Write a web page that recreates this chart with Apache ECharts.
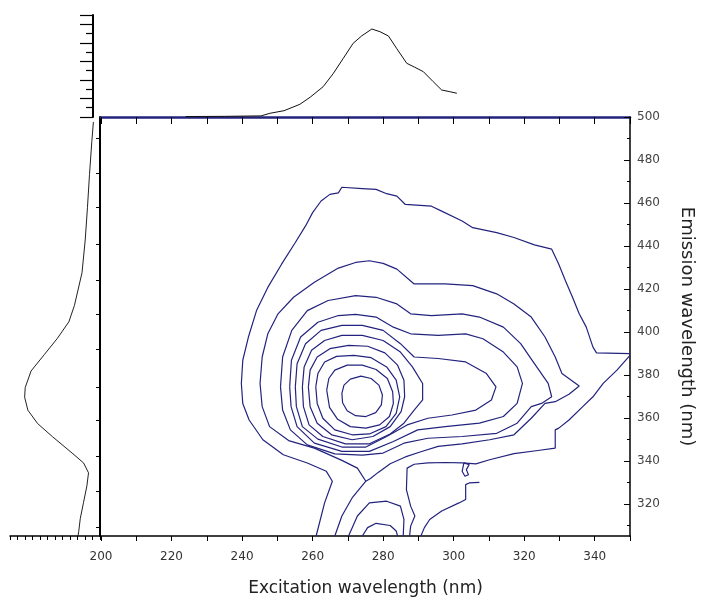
<!DOCTYPE html>
<html><head><meta charset="utf-8">
<script src="https://cdn.jsdelivr.net/npm/echarts@6/dist/echarts.min.js"></script>
<style>html,body{margin:0;padding:0;background:#fff}#c{width:706px;height:604px}</style>
</head><body><div id="c"></div>
<script>
// ---- tick labels ----
const excitationLabels = [200, 220, 240, 260, 280, 300, 320, 340];
const excitationTicks = [200, 210, 220, 230, 240, 250, 260, 270, 280, 290, 300, 310, 320, 330, 340, 350];
const emissionLabels = [320, 340, 360, 380, 400, 420, 440, 460, 480, 500];
const emissionMinorTicks = [310, 320, 330, 340, 350, 360, 370, 380, 390, 400, 410, 420, 430, 440, 450, 460, 470, 480, 490, 500];
const leftSpectrumTicks = [309, 326, 342, 359, 374, 392, 408, 424, 441, 458, 474, 490];

// ---- excitation spectrum (top): [excitation nm, intensity] ----
const excitationSpectrum = [
  [224, 0.05], [235, 0.07], [245.4, 0.12], [247.9, 0.4], [251.9, 0.68], [256.4, 1.37], [259.3, 2.13],
  [263.0, 3.27], [265.9, 4.71], [268.7, 6.33], [271.5, 7.95], [273.9, 8.74], [276.8, 9.49],
  [279.1, 9.2], [281.5, 8.74], [283.8, 7.41], [286.7, 5.79], [289.0, 5.36], [291.4, 4.89],
  [294.2, 3.81], [296.6, 2.91], [298.9, 2.73], [300.9, 2.56]
];

// ---- emission spectrum (left): [intensity, emission nm] ----
const emissionSpectrum = [
  [0.88, 497.7], [1.09, 488.6], [1.40, 473.3], [1.67, 458.0], [1.97, 442.8], [2.40, 427.5],
  [3.41, 412.3], [4.15, 404.7], [5.68, 397.0], [7.43, 389.4], [9.19, 381.8], [9.97, 374.1],
  [10.05, 369.6], [9.61, 363.5], [8.31, 357.3], [6.33, 351.2], [3.72, 343.6], [2.19, 339.0],
  [1.53, 334.4], [1.75, 328.3], [2.19, 320.7], [2.63, 313.1], [2.84, 307.0], [2.93, 305.0]
];

// ---- contour lines: [excitation nm, emission nm] ----
const contourA1 = [[261.0,305],[263.4,320.4],[265.6,330.5],[263.9,335.1],[258.5,339.0],[251.7,342.8],[245.9,349.8],[242.0,359.0],[240.2,366.7],[239.8,376.0],[240.2,386.8],[241.8,397.6],[244.1,409.9],[247.3,420.7],[251.2,431.5],[255.1,441.6],[258.0,449.3],[260.0,455.5],[262.4,460.9],[264.9,464.0],[267.3,464.7],[268.3,467.3],[274.1,466.7],[278.0,466.3],[281.0,464.3],[283.9,463.2],[286.3,459.3],[293.7,458.5],[296.6,456.2],[302.4,451.6],[305.4,448.5],[312.2,446.2],[317.1,443.9],[322.9,440.5],[327.8,438.5],[329.8,431.5],[331.7,423.8],[333.7,416.1],[335.6,408.4],[337.6,402.2],[339.5,392.9],[340.5,390.2],[350,389.9]];
const contourA2 = [[350,389.1],[346.3,382.2],[342.4,376.0],[339.5,369.8],[336.6,365.2],[332.7,359.0],[329.8,355.2],[328.8,354.4],[328.8,345.9],[323.9,344.8],[317.1,343.3],[310.2,340.5],[306.3,338.6],[302.4,339.0],[297.6,339.2],[292.7,339.0],[288.8,338.4],[286.8,336.6],[286.6,326.6],[287.8,318.9],[289.0,314.3],[287.8,309.6],[287.5,305]];
const contourA3 = [[307.3,330.0],[304.4,329.7],[303.4,328.9],[303.4,322.0],[301.5,320.4],[296.6,316.6],[293.2,312.7],[291.7,308.9],[290.7,305]];
const contourStar = [[302.9,339.0],[304.4,338.2],[303.6,335.9],[304.2,333.5],[303.2,332.8],[302.4,335.1],[302.9,339.0]];
const contourB = [[266.3,305],[268.3,314.3],[271.2,322.7],[275.1,330.5],[272.7,336.6],[268.3,340.2],[260.5,345.9],[253.2,349.4],[247.8,355.9],[245.7,365.2],[245.1,376.0],[245.7,388.3],[247.3,399.1],[250.2,408.4],[254.6,416.1],[260.5,423.1],[267.3,429.7],[272.2,432.3],[276.1,433.1],[280.0,431.9],[283.9,429.2],[288.8,422.3],[297.6,422.3],[305.4,421.5],[312.2,417.7],[317.1,413.0],[322.0,406.9],[325.9,397.6],[328.8,388.3],[330.7,380.6],[335.6,374.8],[332.7,371.0],[328.8,367.5],[325.9,366.7],[322.0,359.8],[317.1,352.1],[310.2,349.8],[302.4,347.9],[295.6,346.7],[290.7,344.2],[286.3,341.8],[282.0,338.6],[278.6,334.6],[276.4,331.8],[275.1,330.5]];
const contourBottom1 = [[270.2,305],[272.7,314.3],[276.1,320.4],[281.0,321.2],[284.9,318.9],[285.9,312.7],[285.7,305]];
const contourBottom2 = [[274.1,305],[275.6,308.9],[278.0,310.9],[282.0,309.9],[283.7,307.3],[284.1,305]];
const contourE = [[250.9,374.4],[251.5,388.3],[254.1,400.7],[258.5,409.9],[264.4,414.6],[272.2,416.9],[278.0,416.1],[283.9,413.0],[287.8,408.4],[293.7,407.6],[302.4,408.4],[307.3,406.9],[314.1,402.2],[319.0,394.5],[322.9,385.2],[326.8,376.0],[327.8,369.8],[324.9,366.7],[322.0,365.2],[318.0,357.5],[312.2,352.8],[302.4,351.3],[292.7,350.5],[285.9,348.2],[280.0,343.6],[274.1,342.6],[266.3,343.2],[258.5,347.4],[253.7,354.4],[251.5,363.6],[250.9,374.4]];
const contourF = [[253.5,374.4],[254.0,386.8],[256.6,397.6],[261.5,404.5],[267.3,407.6],[272.2,408.1],[278.0,406.9],[282.9,402.2],[287.8,399.1],[295.6,398.4],[303.4,399.1],[308.3,396.8],[314.1,390.6],[318.0,383.7],[319.5,376.0],[318.0,366.7],[314.1,360.6],[307.3,357.5],[297.6,355.9],[289.8,354.4],[282.9,349.0],[276.1,344.4],[268.3,344.4],[260.5,348.2],[255.6,355.9],[253.9,365.2],[253.5,374.4]];
const contourG = [[255.1,374.4],[255.6,385.2],[258.0,394.5],[262.4,400.7],[268.3,403.0],[274.1,403.0],[280.0,400.7],[284.9,394.5],[288.8,388.3],[295.6,387.6],[303.4,386.0],[309.3,380.6],[312.0,374.4],[310.7,368.3],[306.3,363.6],[299.5,361.3],[292.7,359.8],[286.8,356.7],[281.0,351.3],[275.1,346.4],[268.3,346.4],[261.5,350.1],[257.1,355.9],[255.4,365.2],[255.1,374.4]];
const contourH = [[257.1,374.4],[257.6,383.7],[259.7,391.4],[263.4,396.0],[268.3,398.4],[274.1,398.4],[280.0,396.0],[284.9,390.6],[288.3,383.7],[291.2,376.0],[291.2,368.3],[288.8,363.6],[285.9,357.5],[282.0,352.5],[276.1,347.9],[269.3,347.9],[262.9,351.3],[259.0,356.7],[257.4,365.2],[257.1,374.4]];
const contourI4 = [[258.8,374.4],[259.3,382.2],[261.3,388.3],[264.9,392.2],[270.2,393.7],[275.6,393.3],[280.5,390.2],[284.1,384.5],[285.9,377.5],[286.1,369.8],[285.1,362.9],[282.0,355.9],[277.1,351.3],[271.2,349.8],[265.4,352.1],[261.3,357.5],[259.3,365.2],[258.8,374.4]];
const contourI3 = [[260.9,374.4],[261.5,380.6],[263.4,386.0],[266.8,388.6],[271.7,389.1],[276.6,388.0],[281.0,383.7],[283.7,377.5],[284.7,369.8],[283.7,362.1],[280.8,355.9],[276.1,352.5],[271.2,352.1],[266.3,354.4],[262.9,359.8],[261.3,366.7],[260.9,374.4]];
const contourI2 = [[264.0,372.9],[264.6,378.3],[266.3,382.2],[269.8,384.5],[274.1,384.5],[278.0,382.5],[281.2,378.3],[282.7,372.1],[282.9,366.7],[281.8,360.6],[279.0,356.7],[275.1,355.2],[270.7,355.9],[267.1,359.3],[264.8,364.9],[264.0,372.9]];
const contourI1 = [[268.3,371.4],[268.9,375.2],[270.7,378.0],[273.7,379.4],[276.6,378.3],[278.8,375.2],[279.8,370.6],[279.5,366.0],[277.9,362.4],[275.1,360.6],[272.2,361.0],[269.8,363.3],[268.5,367.0],[268.3,371.4]];

const contours = [contourA1, contourA2, contourA3, contourStar, contourB, contourBottom1, contourBottom2,
  contourE, contourF, contourG, contourH, contourI4, contourI3, contourI2, contourI1];

const NAVY = '#23237e';
const FONT = 'DejaVu Sans, Verdana, sans-serif';

const chart = echarts.init(document.getElementById('c'), null, {renderer: 'canvas'});
const series = contours.map(c => ({
  type: 'line', xAxisIndex: 0, yAxisIndex: 0, data: c, symbol: 'none',
  lineStyle: {color: NAVY, width: 1.2}, silent: true, clip: true
}));
series.push({type: 'line', xAxisIndex: 1, yAxisIndex: 1, data: excitationSpectrum, symbol: 'none',
  lineStyle: {color: '#111', width: 1}, silent: true});
series.push({type: 'line', xAxisIndex: 2, yAxisIndex: 2, data: emissionSpectrum, symbol: 'none',
  lineStyle: {color: '#222', width: 1}, silent: true});

chart.setOption({
  animation: false,
  backgroundColor: '#fff',
  grid: [
    {left: 101, top: 117, width: 529, height: 419},
    {left: 101, top: 15, width: 529, height: 102},
    {left: 10, top: 117, width: 90, height: 419}
  ],
  xAxis: [
    {gridIndex: 0, type: 'value', min: 200, max: 350, position: 'bottom',
     axisLine: {show: true, lineStyle: {color: '#000', width: 1.5}},
     axisTick: {show: true, inside: false, length: 5, customValues: excitationTicks, lineStyle: {color: '#000'}},
     axisLabel: {customValues: excitationLabels, margin: 15, fontSize: 12, color: '#333', fontFamily: FONT},
     splitLine: {show: false},
     name: 'Excitation wavelength (nm)', nameLocation: 'middle', nameGap: 44,
     nameTextStyle: {fontSize: 17, color: '#222', fontFamily: FONT}},
    {gridIndex: 1, type: 'value', min: 200, max: 350, position: 'bottom',
     axisLine: {show: true, lineStyle: {color: NAVY, width: 2.5}},
     axisTick: {show: true, inside: false, length: 7, customValues: excitationTicks, lineStyle: {color: '#000'}},
     axisLabel: {show: false}, splitLine: {show: false}},
    {gridIndex: 2, type: 'value', min: 0, max: 12, interval: 1, inverse: true, position: 'bottom',
     axisLine: {show: true, lineStyle: {color: '#000', width: 1.5}},
     axisTick: {show: true, inside: false, length: 4, lineStyle: {color: '#000'}},
     axisLabel: {show: false}, splitLine: {show: false}}
  ],
  yAxis: [
    {gridIndex: 0, type: 'value', min: 305, max: 500, position: 'right',
     axisLine: {show: true, lineStyle: {color: '#000', width: 1.5}},
     axisTick: {show: true, inside: true, length: 6, customValues: emissionLabels, lineStyle: {color: '#000'}},
     axisLabel: {customValues: emissionLabels, margin: 7, fontSize: 12, color: '#444', fontFamily: FONT},
     splitLine: {show: false},
     name: 'Emission wavelength (nm)', nameLocation: 'middle', nameGap: 48, nameRotate: -90,
     nameTextStyle: {fontSize: 18, color: '#222', fontFamily: FONT}},
    {gridIndex: 1, type: 'value', min: 0, max: 11, interval: 2, position: 'left', offset: 8,
     axisLine: {show: true, lineStyle: {color: '#000', width: 2}},
     axisTick: {show: true, inside: false, length: 13, lineStyle: {color: '#000', width: 1.2}},
     minorTick: {show: true, splitNumber: 2, length: 7, lineStyle: {color: '#000', width: 1.2}},
     axisLabel: {show: false}, splitLine: {show: false}},
    {gridIndex: 2, type: 'value', min: 305, max: 500, position: 'right',
     axisLine: {show: true, lineStyle: {color: '#000', width: 2}},
     axisTick: {show: true, inside: true, length: 4, customValues: leftSpectrumTicks, lineStyle: {color: '#000'}},
     axisLabel: {show: false}, splitLine: {show: false}},
    {gridIndex: 0, type: 'value', min: 305, max: 500, position: 'right',
     axisLine: {show: false},
     axisTick: {show: true, inside: true, length: 3, customValues: emissionMinorTicks, lineStyle: {color: '#000'}},
     axisLabel: {show: false}, splitLine: {show: false}}
  ],
  series: series
});
</script></body></html>
